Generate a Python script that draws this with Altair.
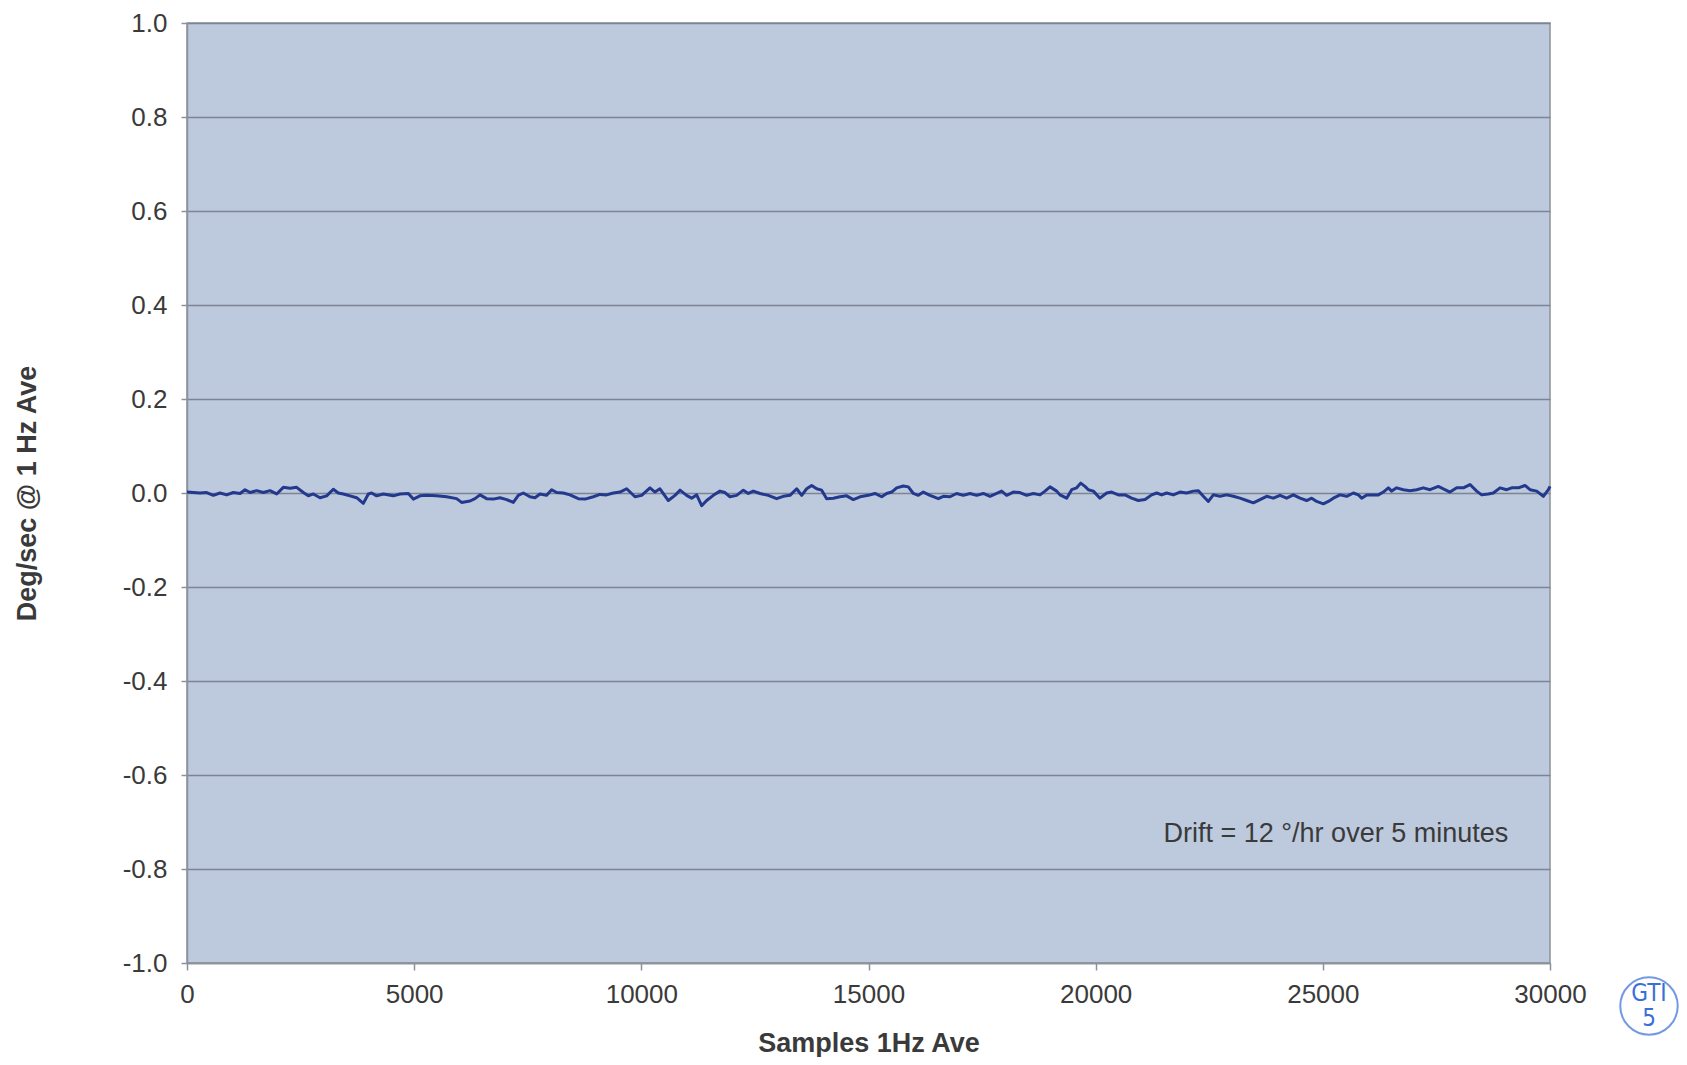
import altair as alt
import pandas as pd

# ---- data ----
samples = [
    0, 286, 433, 580, 726, 873, 1020, 1167, 1277, 1387, 1533, 1680, 1827, 1974, 2120, 2267,
    2414, 2560, 2670, 2780, 2927, 3074, 3220, 3330, 3441, 3587, 3734, 3881, 3991, 4064, 4174,
    4321, 4541, 4688, 4871, 4981, 5128, 5274, 5494, 5714, 5934, 6044, 6229, 6339, 6449, 6595,
    6742, 6889, 7036, 7182, 7292, 7402, 7549, 7659, 7769, 7916, 8026, 8136, 8283, 8429, 8613,
    8760, 8943, 9090, 9236, 9383,
    9530, 9677, 9860, 10007, 10190, 10300, 10410, 10594, 10741, 10851, 10997, 11107, 11218,
    11328, 11438, 11584, 11731, 11841, 11951, 12098, 12245, 12355, 12465, 12612, 12795, 12978,
    13125, 13272, 13419, 13529, 13639, 13749, 13859, 13969, 14079, 14226, 14372, 14519, 14666,
    14813, 14996, 15143, 15290, 15400, 15510, 15620, 15766, 15877, 15987, 16097, 16207, 16353,
    16537, 16647, 16794, 16940, 17087, 17234, 17381, 17527, 17674, 17821, 17931, 18041, 18188,
    18334, 18481, 18628, 18775, 18885, 18995, 19142,
    19215, 19362, 19472, 19582, 19670, 19765, 19839, 19949, 20095, 20242, 20352, 20499, 20646,
    20792, 20939, 21086, 21233, 21343, 21453, 21563, 21710, 21856, 22003, 22150, 22260, 22370,
    22480, 22590, 22737, 22884, 23030, 23177, 23324, 23470, 23617, 23764, 23911, 24057, 24204,
    24351, 24498, 24644, 24754, 24864, 25011, 25121, 25231, 25378, 25525, 25672, 25782, 25855,
    25965, 26112, 26222, 26332, 26442, 26515, 26625, 26772, 26919, 27065, 27212, 27359, 27542,
    27652, 27799, 27946, 28093, 28240, 28386, 28496, 28643, 28753, 28900, 29047, 29157, 29304,
    29450, 29560, 29707, 29854, 29964, 30000,
]
deg_per_sec = [
    0.002, 0.000, 0.001, -0.005, 0.000, -0.004, 0.001, -0.001, 0.007, 0.001, 0.005, 0.001, 0.005,
    -0.002, 0.012, 0.010, 0.012, 0.001, -0.006, -0.002, -0.010, -0.006, 0.008, 0.000, -0.002,
    -0.006, -0.010, -0.022, -0.002, 0.000, -0.006, -0.002, -0.006, -0.002, -0.001, -0.013, -0.006,
    -0.005, -0.006, -0.008, -0.012, -0.020, -0.017, -0.012, -0.004, -0.012, -0.013, -0.010, -0.014,
    -0.020, -0.005, 0.000, -0.008, -0.010, -0.002, -0.005, 0.007, 0.001, 0.000, -0.004, -0.012,
    -0.013, -0.008, -0.003, -0.004, 0.000,
    0.002, 0.009, -0.008, -0.005, 0.011, 0.002, 0.009, -0.016, -0.005, 0.006, -0.005, -0.011,
    -0.004, -0.027, -0.016, -0.005, 0.004, 0.001, -0.008, -0.005, 0.006, -0.001, 0.004, -0.001,
    -0.005, -0.012, -0.007, -0.005, 0.009, -0.005, 0.009, 0.016, 0.009, 0.006, -0.012, -0.011,
    -0.008, -0.006, -0.014, -0.008, -0.005, -0.001, -0.008, -0.001, 0.002, 0.011, 0.015, 0.013,
    -0.001, -0.005, 0.002, -0.005, -0.012, -0.007, -0.008, -0.001, -0.005, -0.001, -0.005, -0.001,
    -0.007, -0.001, 0.004, -0.005, 0.002, 0.001, -0.005, -0.001, -0.004, 0.004, 0.013, 0.004,
    -0.004, -0.011, 0.007, 0.011, 0.021, 0.014, 0.007, 0.004, -0.011, 0.000, 0.002, -0.004, -0.004,
    -0.011, -0.016, -0.014, -0.004, 0.000, -0.004, 0.000, -0.004, 0.002, 0.000, 0.004, 0.005,
    -0.007, -0.018, -0.004, -0.007, -0.004, -0.007, -0.011, -0.016, -0.021, -0.014, -0.007, -0.011,
    -0.005, -0.011, -0.004, -0.011, -0.016, -0.011, -0.018, -0.023, -0.018, -0.011, -0.004, -0.007,
    0.000, -0.004, -0.011, -0.004, -0.004, -0.004, 0.002, 0.011, 0.004, 0.011, 0.007, 0.005, 0.007,
    0.011, 0.007, 0.014, 0.009, 0.002, 0.011, 0.011, 0.018, 0.004, -0.004, -0.002, 0.000, 0.011,
    0.007, 0.011, 0.011, 0.016, 0.007, 0.004, -0.007, 0.007, 0.014,
]
x_ticks = [0, 5000, 10000, 15000, 20000, 25000, 30000]
y_ticks = [-1.0, -0.8, -0.6, -0.4, -0.2, 0.0, 0.2, 0.4, 0.6, 0.8, 1.0]
note_text = ["Drift = 12 °/hr over 5 minutes"]
note_x = [29080]
note_y = [-0.725]
stamp_top = ["GTI"]
stamp_bottom = ["5"]

df = pd.DataFrame({"sample": samples, "value": deg_per_sec})
note_df = pd.DataFrame({"x": note_x, "y": note_y, "t": note_text})

W, H = 1363, 940
TEXT = "#3a3a3a"
FONT = "Liberation Sans"
STAMP = "#3a6fd8"
STAMP_FONT = "DejaVu Sans Condensed, Liberation Sans Narrow, Liberation Sans, sans-serif"

x_scale = alt.Scale(domain=[0, 30000], nice=False, zero=False)
y_scale = alt.Scale(domain=[-1, 1], nice=False)

line = alt.Chart(df).mark_line(color="#22398e", strokeWidth=3, strokeJoin="round").encode(
    x=alt.X(
        "sample:Q",
        scale=x_scale,
        axis=alt.Axis(
            values=x_ticks,
            format="d",
            grid=False,
            labelFlush=False,
            title="Samples 1Hz Ave",
            titleY=80,
            titleBaseline="middle",
            labelPadding=11,
            tickSize=7,
        ),
    ),
    y=alt.Y(
        "value:Q",
        scale=y_scale,
        axis=alt.Axis(
            values=y_ticks,
            labelExpr="replace(format(datum.value, '.1f'), '\u2212', '-')",
            grid=True,
            title="Deg/sec @ 1 Hz Ave",
            titleX=-160,
            titleY=H / 2,
            titleAngle=270,
            titleAlign="center",
            titleBaseline="middle",
            labelPadding=14,
            tickSize=6,
        ),
    ),
)

note = alt.Chart(note_df).mark_text(
    align="right", baseline="middle", fontSize=27, font=FONT, color=TEXT
).encode(x=alt.X("x:Q", scale=x_scale), y=alt.Y("y:Q", scale=y_scale), text="t:N")

stamp_circle = alt.Chart(pd.DataFrame({"k": [0]})).mark_point(
    shape="circle", filled=False, size=3300, strokeWidth=2, color=STAMP
).encode(x=alt.value(1462), y=alt.value(983))

stamp_text1 = alt.Chart(pd.DataFrame({"t": stamp_top})).mark_text(
    align="center", baseline="middle", fontSize=24, font=STAMP_FONT, color=STAMP
).encode(x=alt.value(1462), y=alt.value(971), text="t:N")

stamp_text2 = alt.Chart(pd.DataFrame({"t": stamp_bottom})).mark_text(
    align="center", baseline="middle", fontSize=24, font=STAMP_FONT, color=STAMP
).encode(x=alt.value(1462), y=alt.value(996), text="t:N")

chart = (
    alt.layer(line, note, stamp_circle, stamp_text1, stamp_text2)
    .properties(
        width=W,
        height=H,
        autosize=alt.AutoSizeParams(type="none"),
        padding={"left": 179, "top": 15, "right": 129, "bottom": 94},
        background="white",
    )
    .configure_view(fill="#bdc9dc", stroke="#8c929c", strokeWidth=1.5)
    .configure_axis(
        labelFont=FONT,
        labelFontSize=26,
        labelColor=TEXT,
        titleFont=FONT,
        titleFontSize=27,
        titleFontWeight="bold",
        titleColor=TEXT,
        domainColor="#8c929c",
        domainWidth=1.5,
        tickColor="#8c929c",
        tickWidth=1.5,
        gridColor="#7d8594",
        gridWidth=1.3,
    )
)

chart.save("out.html", embed_options={"renderer": "svg", "actions": False})
